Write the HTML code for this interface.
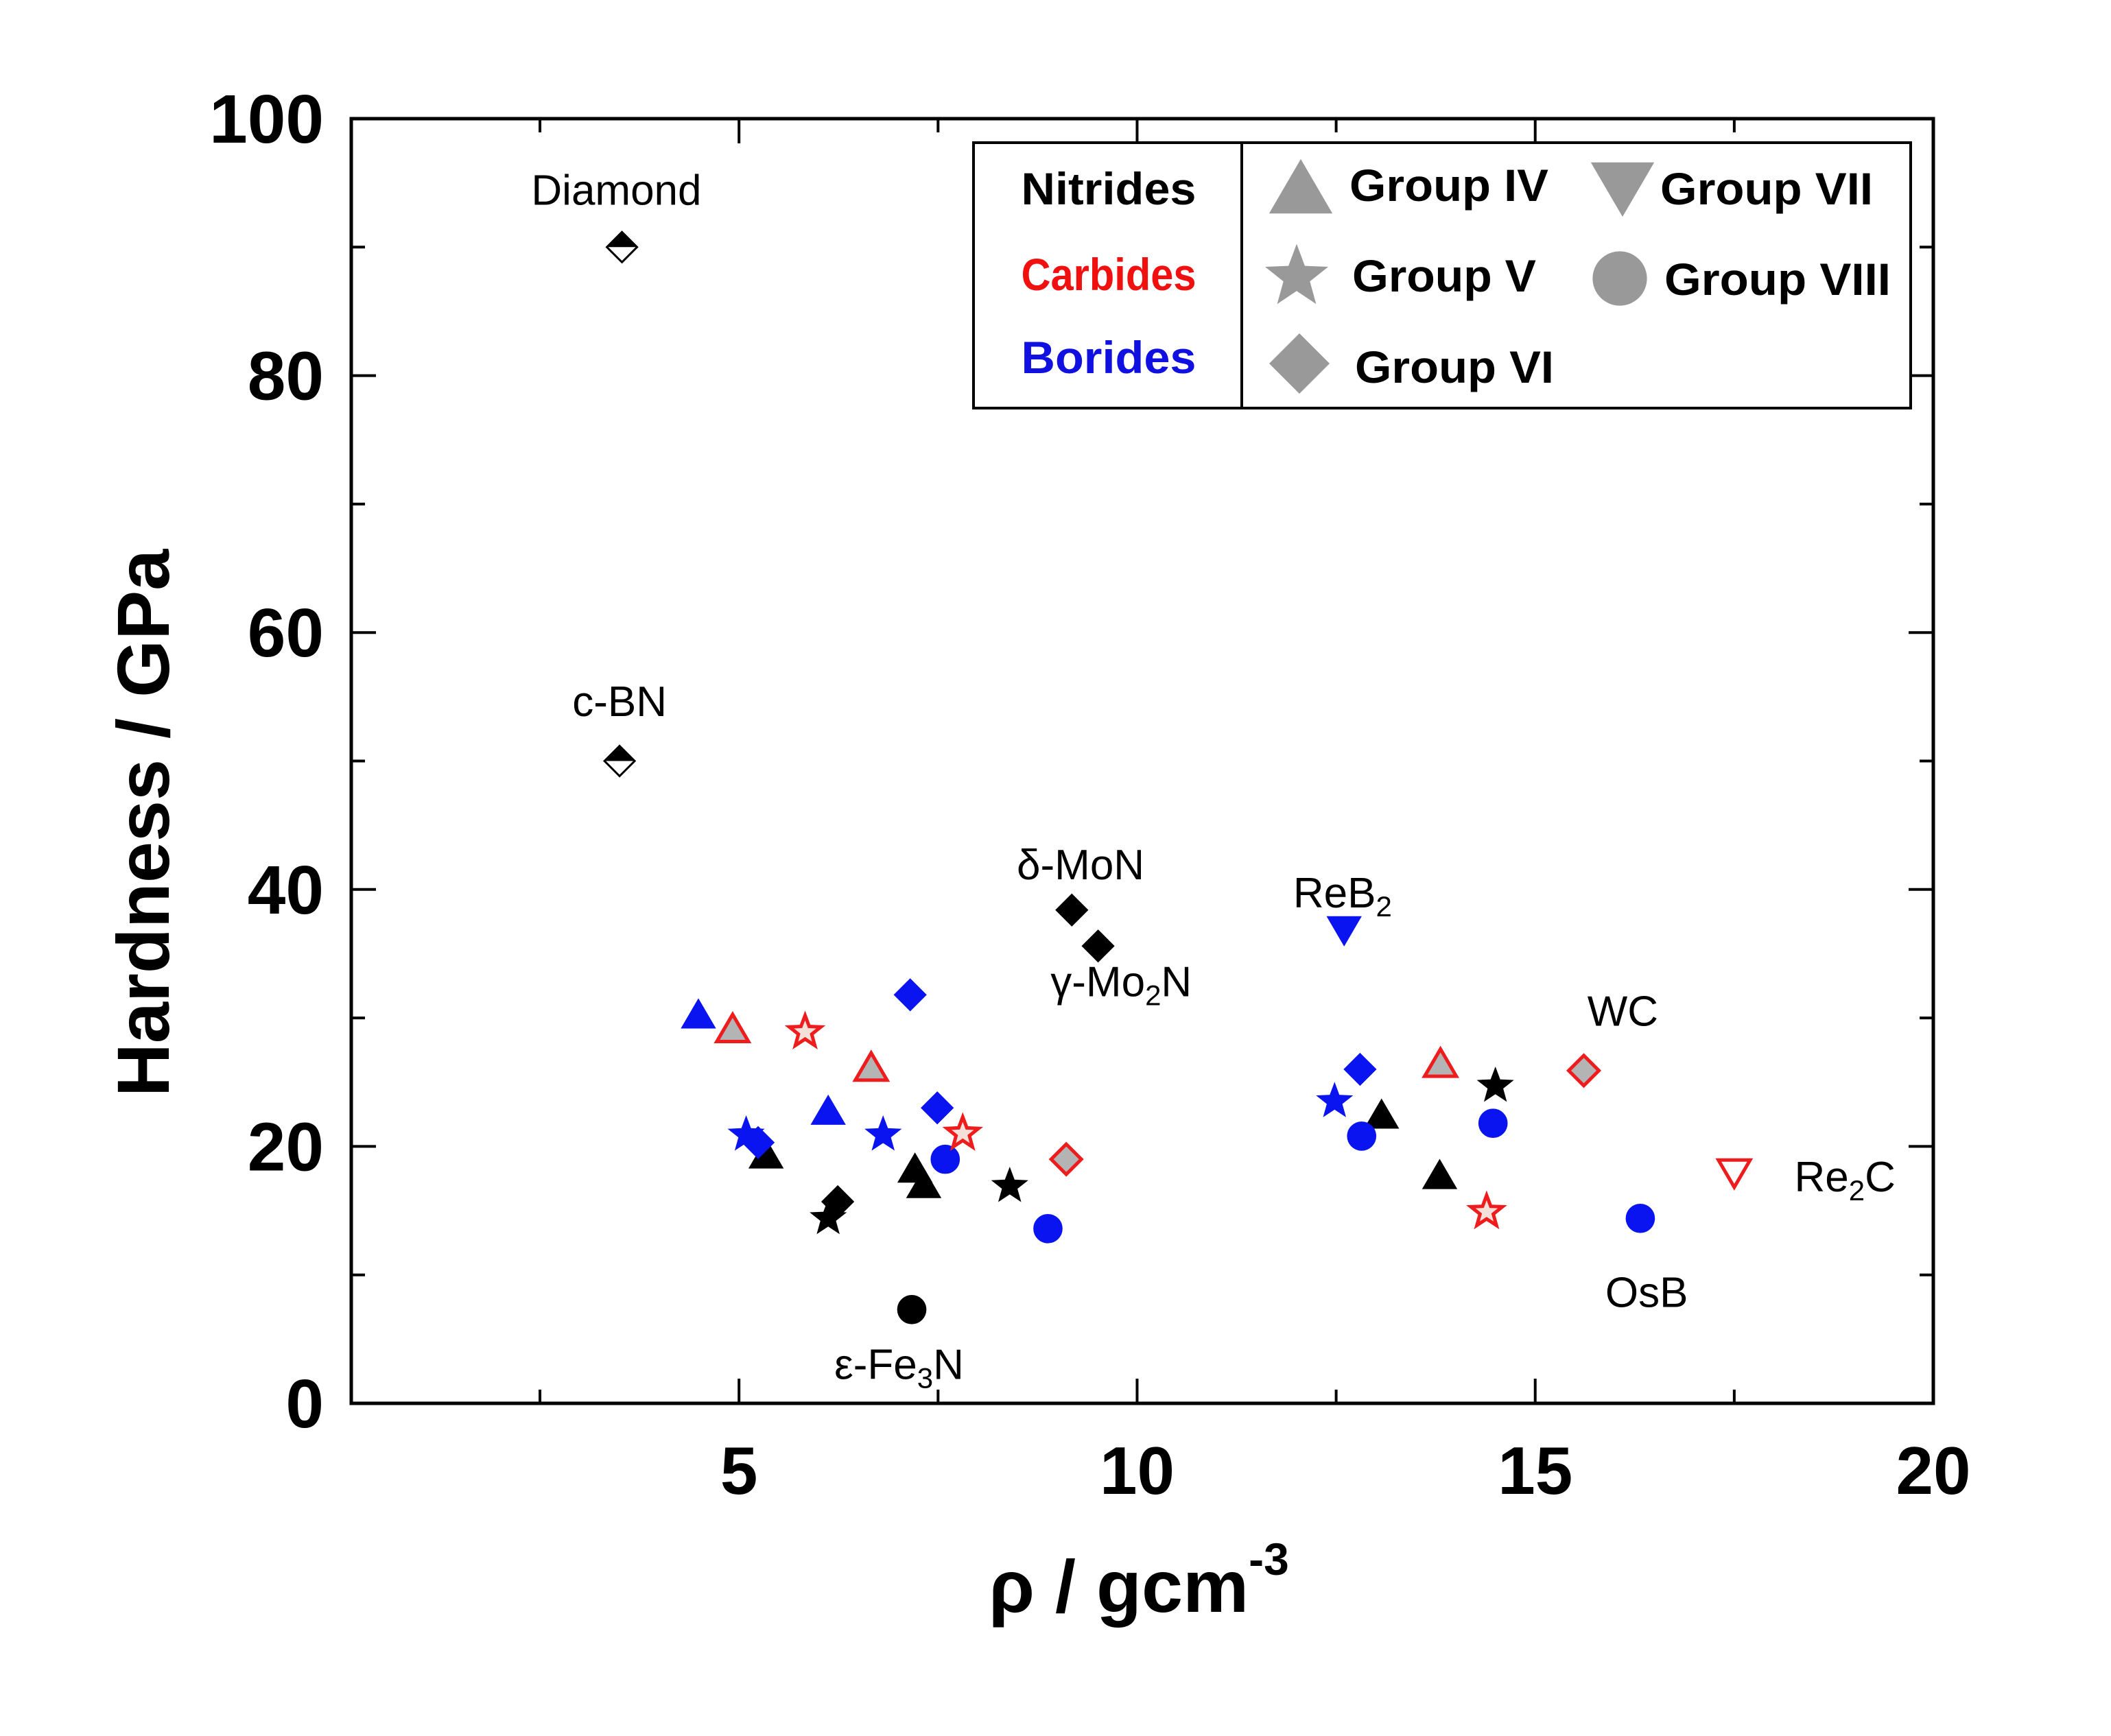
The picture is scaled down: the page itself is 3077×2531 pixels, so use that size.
<!DOCTYPE html>
<html><head><meta charset="utf-8"><style>
html,body{margin:0;padding:0;background:#fff}
svg{display:block}
text{font-family:"Liberation Sans",sans-serif}
</style></head><body>
<svg id="chart" width="3077" height="2531" viewBox="0 0 3077 2531" xmlns="http://www.w3.org/2000/svg">
<rect x="0" y="0" width="3077" height="2531" fill="#fff"/>
<g id="marks"></g>
<g id="labels"></g>
<g id="axes"></g>
<g id="legend"></g>
</svg>
<script>
const NS="http://www.w3.org/2000/svg";
// data arrays
const xVals=[3.53,3.5,9.18,9.51,7.17,5.34,7.21,7.32,13.07,13.8,6.12,8.4,14.5,6.24,4.49,6.12,5.09,6.81,12.48,5.24,7.15,7.49,12.8,7.59,8.88,12.82,14.47,16.32,12.6,4.92,6.66,13.81,5.83,7.81,14.39,9.11,15.61,17.5];
const yVals=[90,50,38.4,35.6,7.3,19.3,18.2,17.0,22.4,17.7,14.4,16.9,24.7,15.7,30.2,22.7,20.9,20.9,23.5,20.3,31.8,23.0,26.0,19.0,13.6,20.8,21.8,14.4,36.9,29.1,26.1,26.4,28.9,21.0,14.9,19.0,25.9,18.0];
const shapes=["half","half","dia","dia","cir","tri","tri","tri","tri","tri","star","star","star","dia","tri","tri","star","star","star","dia","dia","dia","dia","cir","cir","cir","cir","cir","inv","tri","tri","tri","star","star","star","dia","dia","inv"];
const classes=["N","N","N","N","N","N","N","N","N","N","N","N","N","N","B","B","B","B","B","B","B","B","B","B","B","B","B","B","B","C","C","C","C","C","C","C","C","Cw"];
const xTicks=[5,10,15,20];
const xMinor=[2.5,7.5,12.5,17.5];
const yTicks=[0,20,40,60,80,100];
const yMinor=[10,30,50,70,90];
const labelText=["Diamond","c-BN","δ-MoN","ReB2","γ-Mo2N","WC","Re2C","OsB","ε-Fe3N"];
const labelX=[3.46,3.5,9.29,12.58,9.8,16.1,18.89,16.4,7.01];
const labelY=[93.3,53.5,40.8,38.6,31.7,29.4,16.5,7.5,1.9];

const L=512,R=2818,T=173,B=2046,XMIN=0.13,XMAX=20;
const sx=v=>L+(v-XMIN)/(XMAX-XMIN)*(R-L);
const sy=v=>B-v/100*(B-T);

function mk(tag,attrs,parent){const e=document.createElementNS(NS,tag);for(const k in attrs)e.setAttribute(k,attrs[k]);parent.appendChild(e);return e;}
function starPts(cx,cy,r){let p=[];for(let i=0;i<10;i++){const a=-Math.PI/2+i*Math.PI/5;const rr=i%2?r*0.42:r;p.push((cx+rr*Math.cos(a)).toFixed(1)+","+(cy+rr*Math.sin(a)).toFixed(1));}return p.join(" ");}
function shape(type,cx,cy,s,fill,stroke,sw,parent){
  let e;
  if(type==="tri"){e=mk("polygon",{points:`${cx},${cy-s} ${cx+s*1.05},${cy+s*0.8} ${cx-s*1.05},${cy+s*0.8}`},parent);}
  else if(type==="inv"){e=mk("polygon",{points:`${cx-s*1.05},${cy-s*0.8} ${cx+s*1.05},${cy-s*0.8} ${cx},${cy+s}`},parent);}
  else if(type==="dia"){e=mk("polygon",{points:`${cx},${cy-s} ${cx+s},${cy} ${cx},${cy+s} ${cx-s},${cy}`},parent);}
  else if(type==="cir"){e=mk("circle",{cx:cx,cy:cy,r:s*0.9},parent);}
  else if(type==="star"){e=mk("polygon",{points:starPts(cx,cy,s*1.1)},parent);}
  e.setAttribute("fill",fill);e.setAttribute("stroke",stroke);e.setAttribute("stroke-width",sw);
  return e;
}
const marks=document.getElementById("marks");
for(let i=0;i<xVals.length;i++){
  const cx=sx(xVals[i]),cy=sy(yVals[i]),s=22;
  let e;
  if(shapes[i]==="half"){
    const g=mk("g",{},marks);
    mk("polygon",{points:`${cx},${cy-s} ${cx+s},${cy} ${cx-s},${cy}`,fill:"#000"},g);
    mk("polygon",{points:`${cx},${cy-s} ${cx+s},${cy} ${cx},${cy+s} ${cx-s},${cy}`,fill:"none",stroke:"#000","stroke-width":3},g);
    e=g;
  } else {
    const c=classes[i];
    let fill,stroke,sw=3;
    if(c==="N"){fill="#000";stroke="#000";}
    else if(c==="B"){fill="#0a14f0";stroke="#0a14f0";}
    else if(c==="C"){fill=shapes[i]==="star"?"#f4e0d8":"#b4b4b4";stroke="#ee1c1c";sw=5;}
    else {fill="#fff";stroke="#ee1c1c";sw=5;}
    e=shape(shapes[i],cx,cy,s,fill,stroke,sw,marks);
  }
  
  
}
const labels=document.getElementById("labels");
for(let i=0;i<labelText.length;i++){
  const t=mk("text",{x:sx(labelX[i]),y:sy(labelY[i]),"font-size":62,"text-anchor":"middle",fill:"#000"},labels);
  const m=labelText[i].match(/^(.*?)(\d)(.*)$/);
  if(m && labelText[i]!=="c-BN"){
    t.appendChild(document.createTextNode(m[1]));
    const sub=mk("tspan",{"font-size":42,dy:13},t);sub.textContent=m[2];
    const rest=mk("tspan",{"font-size":62,dy:-13},t);rest.textContent=m[3];
  } else t.textContent=labelText[i];
  
  
}
const axes=document.getElementById("axes");
const frame=mk("rect",{x:L,y:T,width:R-L,height:B-T,fill:"none",stroke:"#000","stroke-width":5},axes);


xTicks.forEach(v=>{const x=sx(v);
  mk("line",{x1:x,y1:B,x2:x,y2:B-36,stroke:"#000","stroke-width":4},axes);
  mk("line",{x1:x,y1:T,x2:x,y2:T+36,stroke:"#000","stroke-width":4},axes);
  const t=mk("text",{x:x,y:B+132,"font-size":98,"font-weight":"bold","text-anchor":"middle"},axes);t.textContent=v;
  
  
});
xMinor.forEach(v=>{const x=sx(v);
  mk("line",{x1:x,y1:B,x2:x,y2:B-20,stroke:"#000","stroke-width":4},axes);
  mk("line",{x1:x,y1:T,x2:x,y2:T+20,stroke:"#000","stroke-width":4},axes);
});
yTicks.forEach(v=>{const y=sy(v);
  mk("line",{x1:L,y1:y,x2:L+36,y2:y,stroke:"#000","stroke-width":4},axes);
  mk("line",{x1:R,y1:y,x2:R-36,y2:y,stroke:"#000","stroke-width":4},axes);
  const t=mk("text",{x:472,y:y+35,"font-size":100,"font-weight":"bold","text-anchor":"end"},axes);t.textContent=v;
  
  
});
yMinor.forEach(v=>{const y=sy(v);
  mk("line",{x1:L,y1:y,x2:L+20,y2:y,stroke:"#000","stroke-width":4},axes);
  mk("line",{x1:R,y1:y,x2:R-20,y2:y,stroke:"#000","stroke-width":4},axes);
});
const yt=mk("text",{x:0,y:0,"font-size":108,"font-weight":"bold","text-anchor":"middle",transform:"translate(246,1200) rotate(-90)"},axes);
yt.textContent="Hardness / GPa";


const xt=mk("text",{x:1660,y:2350,"font-size":108,"font-weight":"bold","text-anchor":"middle"},axes);
xt.textContent="ρ / gcm";
const sup=mk("tspan",{"font-size":66,dy:-54},xt);sup.textContent="-3";



const lg=document.getElementById("legend");
const box=mk("rect",{x:1419,y:208,width:1366,height:387,fill:"#fff",stroke:"#000","stroke-width":4},lg);


mk("line",{x1:1810,y1:208,x2:1810,y2:595,stroke:"#000","stroke-width":4},lg);
const cls=[["Nitrides","#000",298],["Carbides","#f01010",423],["Borides","#1010e0",544]];
cls.forEach(c=>{const t=mk("text",{x:1616,y:c[2],"font-size":66,"font-weight":"bold","text-anchor":"middle",fill:c[1],textLength:255,lengthAdjust:"spacingAndGlyphs"},lg);t.textContent=c[0];
  
  });
const grp=[["tri",1896,276,"Group IV",1967,293,290],["star",1890,404,"Group V",1971,425,268],["dia",1894,530,"Group VI",1975,558,290],["inv",2365,272,"Group VII",2420,298,310],["cir",2361,406,"Group VIII",2426,430,330]];
grp.forEach(g=>{shape(g[0],g[1],g[2],44,"#999","none",0,lg);
  const t=mk("text",{x:g[4],y:g[5],"font-size":66,"font-weight":"bold",fill:"#000",textLength:g[6],lengthAdjust:"spacingAndGlyphs"},lg);t.textContent=g[3];
  
  });
</script>
</body></html>
